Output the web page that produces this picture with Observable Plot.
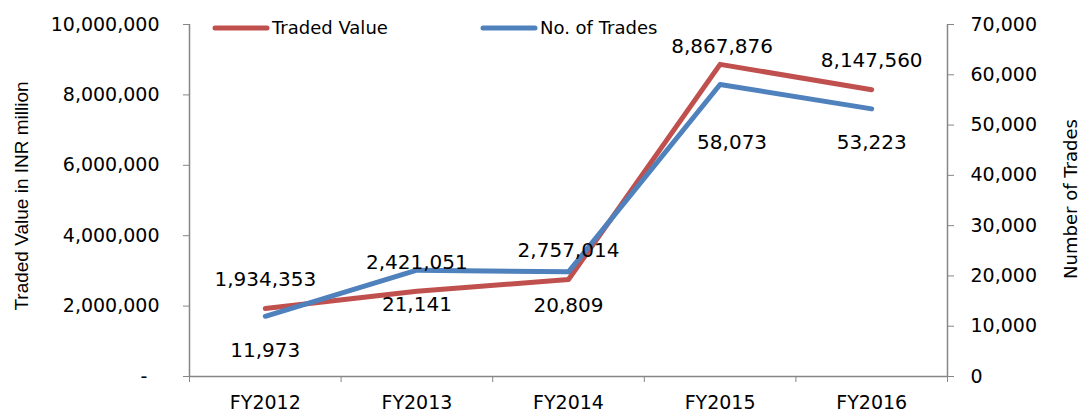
<!DOCTYPE html>
<html>
<head>
<meta charset="utf-8">
<script src="https://cdn.jsdelivr.net/npm/d3@7"></script>
<script src="https://cdn.jsdelivr.net/npm/@observablehq/plot@0.6"></script>
<style>
  html, body { margin: 0; padding: 0; background: #fff; }
  #chart { position: relative; width: 1080px; height: 418px; }
  svg { font-family: "DejaVu Sans", sans-serif; }
</style>
</head>
<body>
<div id="chart"></div>
<script>
const categories = ["FY2012", "FY2013", "FY2014", "FY2015", "FY2016"];
const tradedValue = [1934353, 2421051, 2757014, 8867876, 8147560];
const numTrades = [11973, 21141, 20809, 58073, 53223];
const leftTicks = [0, 2000000, 4000000, 6000000, 8000000, 10000000];
const rightTicks = [0, 10000, 20000, 30000, 40000, 50000, 60000, 70000];
const seriesNames = ["Traded Value", "No. of Trades"];
const seriesColors = ["#C0504D", "#4F81BD"];
const leftTitle = "Traded Value in INR million";
const rightTitle = "Number of Trades";

const k = 10000000 / 70000; // right-axis to left-axis factor
const fmt = d3.format(",");
const grey = "#868686";

const rowsV = categories.map((c, i) => ({i, c, v: tradedValue[i]}));
const rowsT = categories.map((c, i) => ({i, c, v: numTrades[i], y: numTrades[i] * k}));
const moved = d => d.c === "FY2015"; // label dragged in the original

const plot = Plot.plot({
  width: 1080,
  height: 418,
  marginLeft: 189,
  marginRight: 133,
  marginTop: 24,
  marginBottom: 42,
  style: {fontFamily: "DejaVu Sans, sans-serif", fontSize: "19px", color: "#000", background: "#fff"},
  x: {domain: [-0.5, 4.5]},
  y: {domain: [0, 10000000]},
  marks: [
    Plot.ruleY([0], {stroke: grey, strokeWidth: 1.5}),
    Plot.ruleX([-0.5, 4.5], {y1: 0, y2: 10000000, stroke: grey, strokeWidth: 1.5}),
    Plot.axisY(leftTicks, {
      anchor: "left", tickSize: 6, tickPadding: 24, stroke: grey, fill: "#000",
      tickFormat: d => d === 0 ? "-\u2007" : fmt(d), label: null, fontSize: 19
    }),
    Plot.axisY(rightTicks.map(v => v * k), {
      anchor: "right", tickSize: 6, tickPadding: 17, stroke: grey, fill: "#000",
      tickFormat: d => fmt(Math.round(d / k)), label: null, fontSize: 19
    }),
    Plot.axisX(d3.range(-0.5, 5, 1), {
      anchor: "bottom", tickSize: 6, stroke: grey, tickFormat: () => "", label: null
    }),
    Plot.axisX(d3.range(0, 5), {
      anchor: "bottom", tickSize: 0, tickPadding: 19, fill: "#000",
      tickFormat: i => categories[i], label: null, fontSize: 19
    }),
    Plot.line(rowsV, {x: "i", y: "v", stroke: seriesColors[0], strokeWidth: 5, strokeLinejoin: "round", strokeLinecap: "round"}),
    Plot.line(rowsT, {x: "i", y: "y", stroke: seriesColors[1], strokeWidth: 5, strokeLinejoin: "round", strokeLinecap: "round"}),
    Plot.text(rowsV, {filter: d => !moved(d), x: "i", y: "v", text: d => fmt(d.v), dy: -29, fill: "#000", fontSize: 20}),
    Plot.text(rowsV, {filter: moved, x: "i", y: "v", text: d => fmt(d.v), dy: -18, dx: 2, fill: "#000", fontSize: 20}),
    Plot.text(rowsT, {filter: d => !moved(d), x: "i", y: "y", text: d => fmt(d.v), dy: 34, fill: "#000", fontSize: 20}),
    Plot.text(rowsT, {filter: moved, x: "i", y: "y", text: d => fmt(d.v), dy: 58, dx: 12, fill: "#000", fontSize: 20})
  ]
});

document.getElementById("chart").appendChild(plot);

const svg = d3.select(plot);

// Axis titles
svg.append("text")
  .attr("transform", "translate(21,196) rotate(-90)")
  .attr("text-anchor", "middle").attr("dy", "0.35em")
  .attr("font-family", "Liberation Sans, Arial, sans-serif").attr("font-size", 19)
  .attr("fill", "#000").text(leftTitle);
svg.append("text")
  .attr("transform", "translate(1071,199) rotate(-90)")
  .attr("text-anchor", "middle").attr("dy", "0.35em")
  .attr("font-family", "DejaVu Sans, sans-serif").attr("font-size", 18)
  .attr("fill", "#000").text(rightTitle);

// Legend inside the plot area (top)
const legend = svg.append("g").attr("font-size", 18).attr("font-family", "DejaVu Sans, sans-serif");
const legendX = [215, 483];
seriesNames.forEach((name, j) => {
  const g = legend.append("g").attr("transform", `translate(${legendX[j]},28)`);
  g.append("line").attr("x1", 0).attr("x2", 52).attr("y1", 0).attr("y2", 0)
    .attr("stroke", seriesColors[j]).attr("stroke-width", 5).attr("stroke-linecap", "round");
  g.append("text").attr("x", 57).attr("y", 0).attr("dy", "0.35em")
    .attr("text-anchor", "start").attr("fill", "#000").text(name);
});
</script>
</body>
</html>
